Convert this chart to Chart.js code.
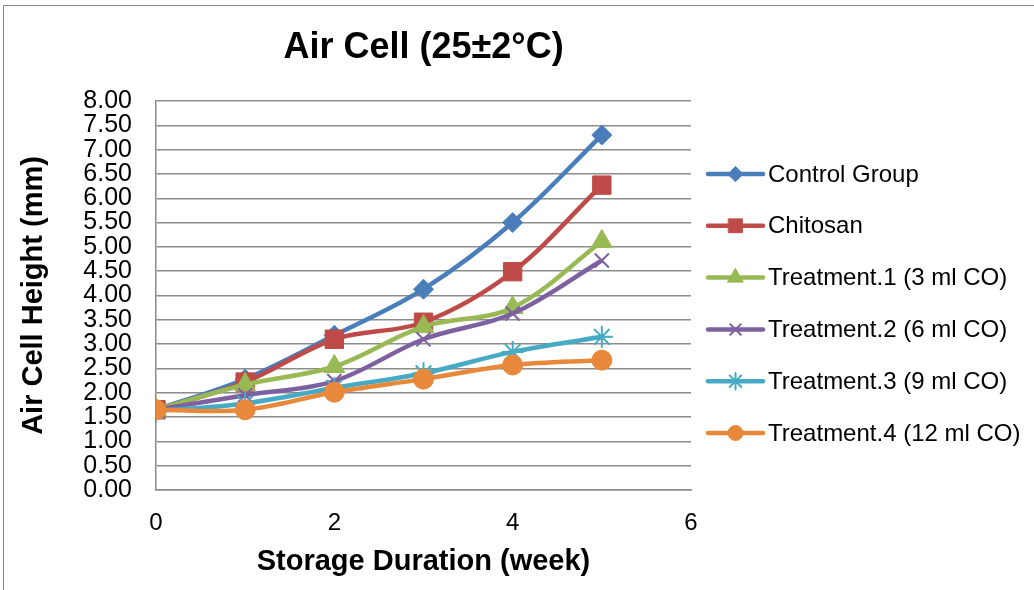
<!DOCTYPE html>
<html>
<head>
<meta charset="utf-8">
<script src="https://cdn.jsdelivr.net/npm/chart.js@4"></script>
<style>
  html, body { margin: 0; padding: 0; background: #fff; overflow: hidden; }
  #frame { position: absolute; left: 3px; top: 5px; width: 1100px; height: 700px; border: 1px solid #868686; }
  #wrap { position: absolute; left: 0; top: 0; width: 1034px; height: 590px; }
</style>
</head>
<body>
<div id="frame"></div>
<div id="wrap"><canvas id="airChart" width="1034" height="590"></canvas></div>
<script>
// Air cell height vs storage weeks
const weeks = [0, 1, 2, 3, 4, 5];
const seriesNames = ['Control Group', 'Chitosan', 'Treatment.1 (3 ml CO)', 'Treatment.2 (6 ml CO)', 'Treatment.3 (9 ml CO)', 'Treatment.4 (12 ml CO)'];
const controlGroup = [1.65, 2.28, 3.18, 4.13, 5.50, 7.30];
const chitosan     = [1.65, 2.22, 3.10, 3.45, 4.49, 6.27];
const treatment1   = [1.65, 2.17, 2.54, 3.36, 3.75, 5.11];
const treatment2   = [1.65, 1.95, 2.24, 3.10, 3.63, 4.72];
const treatment3   = [1.62, 1.78, 2.10, 2.40, 2.84, 3.15];
const treatment4   = [1.65, 1.65, 2.01, 2.28, 2.57, 2.67];
const yTicks = [0, 0.5, 1, 1.5, 2, 2.5, 3, 3.5, 4, 4.5, 5, 5.5, 6, 6.5, 7, 7.5, 8];
const xTicks = [0, 2, 4, 6];

const allValues = [controlGroup, chitosan, treatment1, treatment2, treatment3, treatment4];
const colors = ['#4a7ebb', '#be4b48', '#98b954', '#7d60a0', '#46aac5', '#e8883a'];
const markers = ['rectRot', 'rect', 'triangle', 'crossRot', 'star', 'circle'];
const markerSize = [10, 13, 12, 10, 11, 10];

const datasets = allValues.map((vals, i) => ({
    label: seriesNames[i],
    data: weeks.map((w, j) => ({ x: w, y: vals[j] })),
    borderColor: colors[i],
    backgroundColor: colors[i],
    borderWidth: 4.5,
    tension: 0.35,
    pointStyle: markers[i],
    pointRadius: markerSize[i],
    pointBorderColor: colors[i],
    pointBackgroundColor: colors[i],
    pointBorderWidth: (markers[i] === 'crossRot' || markers[i] === 'star') ? 2 : 1,
    order: 6 - i
}));

// legend drawn to the right of the plot, line + marker like the spreadsheet
const sideLegend = {
    id: 'sideLegend',
    afterDraw(chart) {
        const ctx = chart.ctx;
        const x0 = 708, x1 = 763, top = 174, step = 51.8;
        ctx.save();
        ctx.font = '24px "Liberation Sans", Arial, sans-serif';
        ctx.textBaseline = 'middle';
        datasets.forEach((ds, i) => {
            const y = top + i * step;
            ctx.strokeStyle = ds.borderColor;
            ctx.fillStyle = ds.borderColor;
            ctx.lineWidth = 4.5;
            ctx.lineCap = 'round';
            ctx.beginPath();
            ctx.moveTo(x0, y);
            ctx.lineTo(x1, y);
            ctx.stroke();
            ctx.lineWidth = ds.pointBorderWidth;
            Chart.helpers.drawPoint(ctx, {
                pointStyle: ds.pointStyle,
                radius: ds.pointRadius * 0.75,
                rotation: 0,
                borderWidth: ds.pointBorderWidth
            }, (x0 + x1) / 2, y);
            ctx.fillStyle = '#000';
            ctx.fillText(ds.label, 768, y + 1);
        });
        ctx.restore();
    }
};

const ctx = document.getElementById('airChart').getContext('2d');
new Chart(ctx, {
    type: 'line',
    data: { datasets: datasets },
    options: {
        responsive: false,
        animation: false,
        layout: { padding: { left: 0, right: 343, top: 0, bottom: 0 } },
        plugins: {
            legend: { display: false },
            tooltip: { enabled: false },
            title: {
                display: true,
                text: 'Air Cell (25±2°C)',
                fullSize: false,
                color: '#000',
                font: { family: '"Liberation Sans", Arial, sans-serif', size: 36, weight: 'bold', lineHeight: 1.2 },
                padding: { top: 26, bottom: 31.8 }
            }
        },
        scales: {
            x: {
                type: 'linear',
                min: 0,
                max: 6,
                afterBuildTicks(scale) { scale.ticks = xTicks.map(v => ({ value: v })); },
                afterFit(scale) { scale.height = 100; },
                grid: { display: false, drawTicks: false },
                border: { display: true, color: '#8c8c8c', width: 1.5 },
                ticks: {
                    color: '#000',
                    padding: 19,
                    maxRotation: 0,
                    autoSkip: false,
                    font: { family: '"Liberation Sans", Arial, sans-serif', size: 24 }
                },
                title: {
                    display: true,
                    text: 'Storage Duration (week)',
                    color: '#000',
                    font: { family: '"Liberation Sans", Arial, sans-serif', size: 29, weight: 'bold', lineHeight: 1.2 },
                    padding: { top: 4, bottom: 11 }
                }
            },
            y: {
                min: 0,
                max: 8,
                afterBuildTicks(scale) { scale.ticks = yTicks.map(v => ({ value: v })); },
                afterFit(scale) { scale.width = 156; },
                grid: { color: '#8c8c8c', lineWidth: 1.5, drawTicks: false },
                border: { display: true, color: '#8c8c8c', width: 1.5 },
                ticks: {
                    color: '#000',
                    padding: 24,
                    autoSkip: false,
                    font: { family: '"Liberation Sans", Arial, sans-serif', size: 25, lineHeight: 0.9 },
                    callback: v => v.toFixed(2)
                },
                title: {
                    display: true,
                    text: 'Air Cell Height (mm)',
                    color: '#000',
                    font: { family: '"Liberation Sans", Arial, sans-serif', size: 29, weight: 'bold', lineHeight: 1.2 },
                    padding: { top: 17, bottom: 4 }
                }
            }
        }
    },
    plugins: [sideLegend]
});
</script>
</body>
</html>
